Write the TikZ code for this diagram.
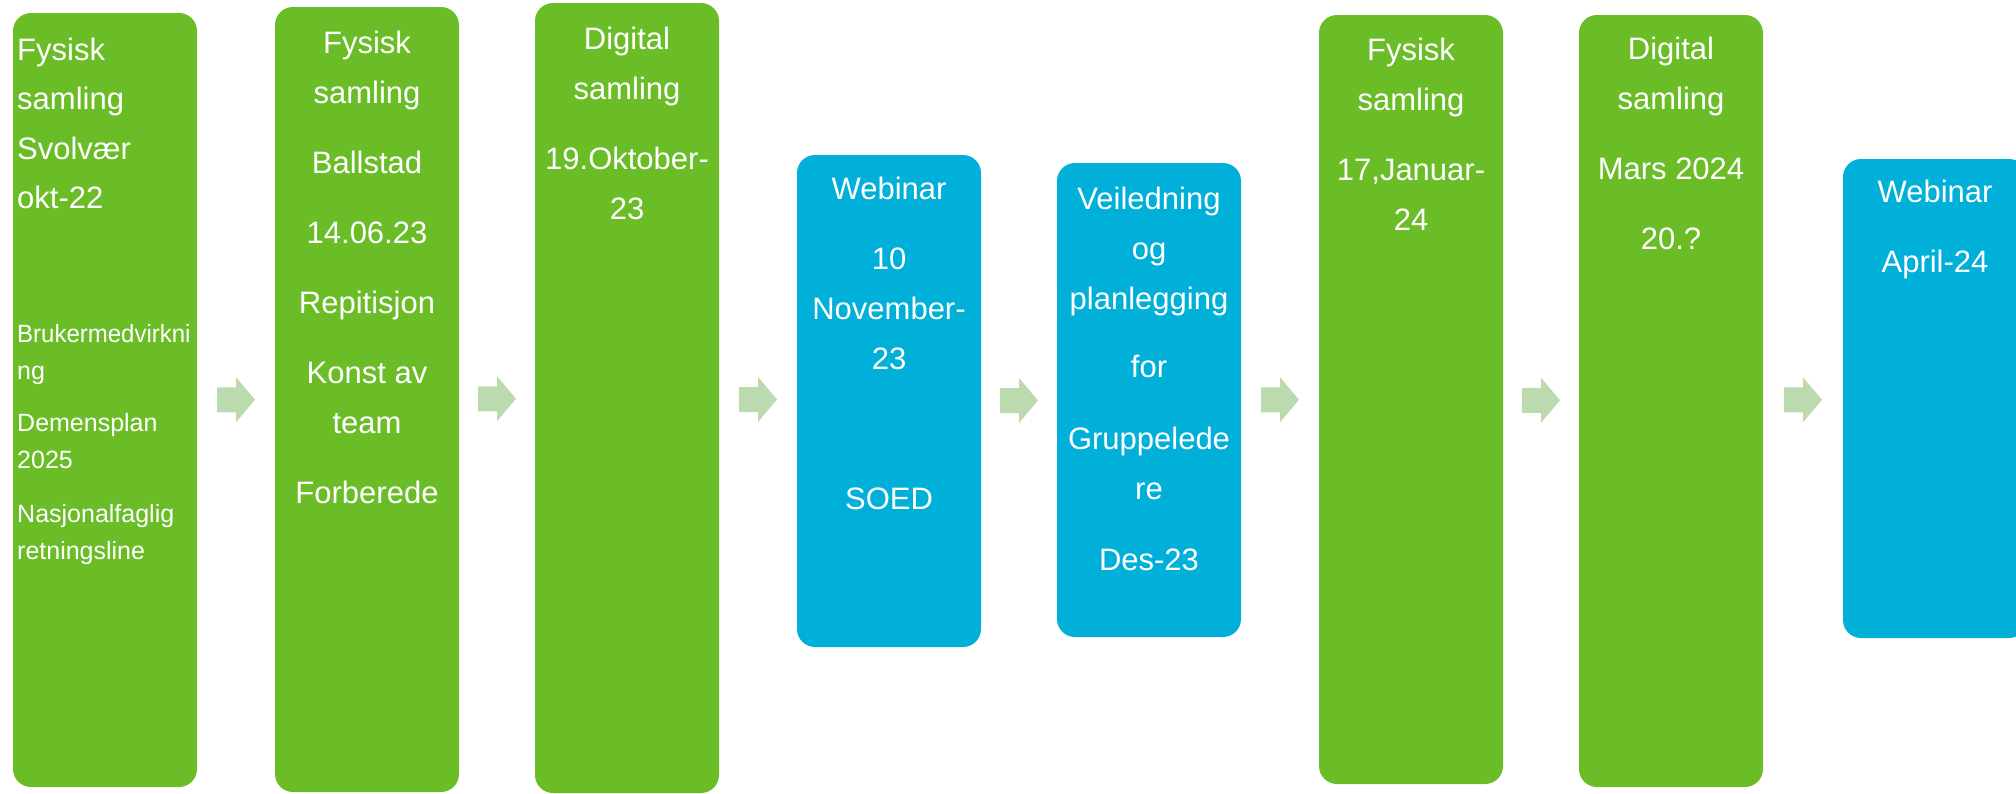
\documentclass[tikz,border=0pt]{standalone}
\usepackage{fontspec}
\setmainfont{Liberation Sans}
\usetikzlibrary{calc}

\definecolor{samlgreen}{RGB}{107,189,40}
\definecolor{webblue}{RGB}{0,176,216}
\definecolor{flowgreen}{RGB}{187,219,175}

\tikzset{
    stage/.style={minimum width=184pt, inner sep=0pt, outer sep=0pt, rounded corners=18pt},
    fys/.style={stage, fill=samlgreen},
    web/.style={stage, fill=webblue},
    txt/.style={text=white, align=center, anchor=north, inner sep=0pt,
        font=\fontsize{31}{50}\selectfont, execute at begin node=\rule{0pt}{25pt}},
    smalltxt/.style={text=white, align=left, anchor=north west, inner sep=0pt,
        font=\fontsize{25}{37}\selectfont, execute at begin node=\rule{0pt}{20pt}}
}

\begin{document}
\begin{tikzpicture}[x=1pt, y=-1pt]
    \useasboundingbox (0,0) rectangle (2016,793);

    % the boxes
    \node[fys, minimum height=774pt] (b1) at (105,400) {};
    \node[fys, minimum height=785pt] (b2) at (367,399.5) {};
    \node[fys, minimum height=790pt] (b3) at (627,398) {};
    \node[web, minimum height=492pt] (b4) at (889,401) {};
    \node[web, minimum height=474pt] (b5) at (1149,400) {};
    \node[fys, minimum height=769pt] (b6) at (1411,399.5) {};
    \node[fys, minimum height=772pt] (b7) at (1671,401) {};
    \node[web, minimum height=479pt] (b8) at (1935,398.5) {};

    % arrows between them
    \foreach \a/\b in {b1/b2, b2/b3, b3/b4, b4/b5, b5/b6, b6/b7, b7/b8}
        \fill[flowgreen] ($(\a.east)!0.5!(\b.west)$) ++(-19,-12.5) -- ++(19,0) -- ++(0,-10)
            -- ++(19,22.5) -- ++(-19,22.5) -- ++(0,-10) -- ++(-19,0) -- cycle;

    % texts (first baseline about 48pt under the top of each box)
    \node[txt, align=left, anchor=north west, font=\fontsize{31}{49.3}\selectfont] (t1)
        at ([xshift=4pt, yshift=-25pt]b1.north west) {Fysisk\\samling\\Svolvær\\okt-22};
    \node[smalltxt] (t1s) at ([xshift=4pt, yshift=-311pt]b1.north west)
        {\scalebox{0.96}[1]{Brukermedvirkni}\\ng\\[15pt]Demensplan\\2025\\[17pt]Nasjonalfaglig\\retningsline};
    \node[txt] (t2) at ([yshift=-24pt]b2.north)
        {Fysisk\\samling\\[20pt]Ballstad\\[20pt]14.06.23\\[20pt]Repitisjon\\[20pt]Konst av\\team\\[20pt]Forberede};
    \node[txt] (t3) at ([yshift=-24pt]b3.north) {Digital\\samling\\[20pt]19.Oktober-\\23};
    \node[txt] (t4) at ([yshift=-22pt]b4.north) {Webinar\\[20pt]10\\November-\\23\\[90pt]SOED};
    \node[txt] (t5) at ([yshift=-24pt]b5.north)
        {Veiledning\\og\\planlegging\\[18pt]for\\[22pt]Gruppelede\\re\\[21pt]Des-23};
    \node[txt] (t6) at ([yshift=-23pt]b6.north) {Fysisk\\samling\\[20pt]17,Januar-\\24};
    \node[txt] (t7) at ([yshift=-22pt]b7.north) {Digital\\samling\\[20pt]Mars 2024\\[20pt]20.?};
    \node[txt] (t8) at ([yshift=-21pt]b8.north) {Webinar\\[20pt]April-24};
\end{tikzpicture}
\end{document}
